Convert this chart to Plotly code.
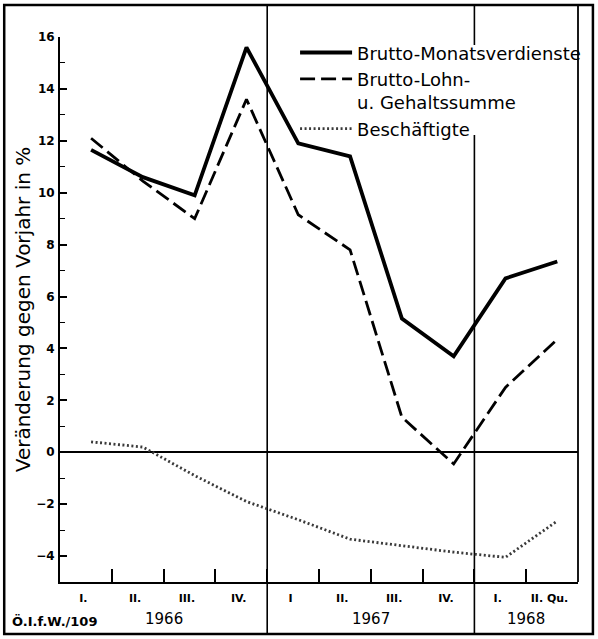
import plotly.graph_objects as go

# ---- data ----
quarters = ["I.", "II.", "III.", "IV.", "I", "II.", "III.", "IV.", "I.", "II. Qu."]
years = ["1966", "1967", "1968"]
year_centers = [1.4, 5.4, 8.4]
monatsverdienste = [11.65, 10.6, 9.9, 15.6, 11.9, 11.4, 5.15, 3.7, 6.7, 7.35]
lohnsumme = [12.1, 10.45, 9.0, 13.6, 9.15, 7.8, 1.35, -0.45, 2.5, 4.35]
beschaeftigte = [0.4, 0.2, -0.9, -1.9, -2.6, -3.35, -3.6, -3.85, -4.05, -2.65]

x_idx = list(range(len(quarters)))
FONT = "DejaVu Sans"

fig = go.Figure()
fig.add_trace(go.Scatter(x=x_idx, y=monatsverdienste, mode="lines",
                         name="Brutto-Monatsverdienste",
                         line=dict(color="black", width=3.8)))
fig.add_trace(go.Scatter(x=x_idx, y=lohnsumme, mode="lines",
                         name="Brutto-Lohn-<br>u. Gehaltssumme",
                         line=dict(color="black", width=2.8, dash="15px,6px")))
fig.add_trace(go.Scatter(x=x_idx, y=beschaeftigte, mode="lines",
                         name="Beschäftigte",
                         line=dict(color="#3a3a3a", width=2.8, dash="2px,2.5px")))

# frame and year dividers
fig.add_shape(type="rect", xref="paper", yref="paper",
              x0=-0.1077, x1=1.0288, y0=-0.0954, y1=1.0587,
              line=dict(color="black", width=2.5), layer="below")
fig.add_shape(type="line", xref="x", yref="paper", x0=3.4, x1=3.4,
              y0=-0.0954, y1=1.0587, line=dict(color="black", width=1.6),
              layer="below")
# second divider is interrupted by the legend text
for (ya, yb) in [(-0.0954, 0.820), (0.9853, 1.0587)]:
    fig.add_shape(type="line", xref="x", yref="paper", x0=7.4, x1=7.4,
                  y0=ya, y1=yb, line=dict(color="black", width=1.6),
                  layer="below")
fig.add_shape(type="line", xref="paper", yref="paper", x0=1, x1=1,
              y0=0, y1=1.0587, line=dict(color="black", width=1.8), layer="below")

for yr, xc in zip(years, year_centers):
    fig.add_annotation(x=xc, xref="x", y=-0.068, yref="paper", text=yr,
                       showarrow=False, font=dict(family=FONT, size=15, color="black"),
                       xanchor="center", yanchor="middle")
fig.add_annotation(x=-0.097, xref="paper", y=-0.072, yref="paper",
                   text="Ö.I.f.W./109", showarrow=False,
                   font=dict(family=FONT, size=13, color="black", weight="bold"),
                   xanchor="left", yanchor="middle")

fig.update_layout(
    width=598, height=639,
    margin=dict(l=60, r=18, t=37, b=57),
    paper_bgcolor="white", plot_bgcolor="white",
    font=dict(family=FONT, color="black"),
    showlegend=True,
    legend=dict(x=0.4538, y=1.005, xanchor="left", yanchor="top",
                bgcolor="rgba(0,0,0,0)", borderwidth=0, itemwidth=52,
                font=dict(family=FONT, size=18, color="black"),
                tracegroupgap=0, valign="top"),
    xaxis=dict(range=[-0.6, 9.4], showgrid=False, zeroline=False, automargin=False,
               showline=True, linecolor="black", linewidth=2,
               tickmode="array", tickvals=[i - 0.15 for i in x_idx],
               ticktext=quarters, ticks="", ticklabelstandoff=5,
               tickfont=dict(family=FONT, size=11, color="black", weight="bold"),
               minor=dict(tickmode="array", tickvals=[i + 0.4 for i in x_idx[:-1]],
                          ticks="inside", ticklen=13, tickwidth=2, tickcolor="black")),
    yaxis=dict(range=[-5, 16], showgrid=False, automargin=False,
               zeroline=True, zerolinecolor="black", zerolinewidth=1.6,
               showline=True, linecolor="black", linewidth=2,
               tickmode="linear", tick0=0, dtick=2,
               ticks="inside", ticklen=7, tickwidth=1.6, tickcolor="black",
               ticklabelstandoff=1,
               tickfont=dict(family=FONT, size=12, color="black", weight="bold"),
               minor=dict(tickmode="linear", tick0=1, dtick=2, ticks="inside",
                          ticklen=5, tickwidth=1.4, tickcolor="black"),
               title=dict(text="Veränderung gegen Vorjahr in %", standoff=0,
                          font=dict(family=FONT, size=20, color="black"))),
)

fig.write_html("out.html", config={"displayModeBar": False},
               post_script="document.body.style.margin='0';")
